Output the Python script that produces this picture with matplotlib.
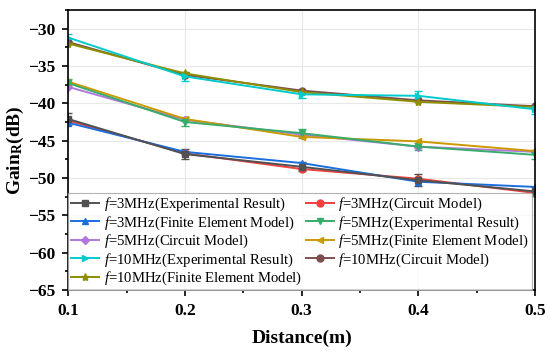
import matplotlib
matplotlib.use("Agg")
import matplotlib.pyplot as plt
from matplotlib.ticker import MultipleLocator

plt.rcParams['font.family'] = 'Liberation Serif'
plt.rcParams['mathtext.fontset'] = 'custom'
plt.rcParams['mathtext.rm'] = 'Liberation Serif'
plt.rcParams['mathtext.it'] = 'Liberation Serif:italic'
plt.rcParams['mathtext.bf'] = 'Liberation Serif:bold'

# distances (m)
distance = [0.1, 0.2, 0.3, 0.4, 0.5]

# gain values (dB)
exp_3mhz = [-42.1, -46.8, -48.5, -50.3, -51.8]
err_3mhz = [0.8, 0.7, 0.6, 0.8, 0.6]
cir_3mhz = [-42.3, -46.7, -48.8, -50.1, -52.0]
fem_3mhz = [-42.6, -46.5, -48.0, -50.5, -51.2]

exp_5mhz = [-37.3, -42.5, -44.0, -45.8, -46.9]
err_5mhz = [0.5, 0.6, 0.6, 0.5, 0.6]
cir_5mhz = [-37.8, -42.2, -44.2, -45.8, -46.5]
fem_5mhz = [-37.1, -42.1, -44.5, -45.1, -46.4]

exp_10mhz = [-31.2, -36.4, -38.8, -39.0, -40.8]
err_10mhz = [0.5, 0.6, 0.5, 0.6, 0.6]
cir_10mhz = [-31.8, -36.2, -38.3, -39.6, -40.4]
fem_10mhz = [-32.0, -36.0, -38.5, -39.8, -40.5]

labels = [r'$f$=3MHz(Experimental Result)', r'$f$=3MHz(Circuit Model)',
          r'$f$=3MHz(Finite Element Model)', r'$f$=5MHz(Experimental Result)',
          r'$f$=5MHz(Circuit Model)', r'$f$=5MHz(Finite Element Model)',
          r'$f$=10MHz(Experimental Result)', r'$f$=10MHz(Circuit Model)',
          r'$f$=10MHz(Finite Element Model)']

fig = plt.figure(figsize=(5.5, 3.55), dpi=100)
ax = fig.add_axes([0.124, 0.183, 0.849, 0.789])

lw = 1.4
ms = 5
handles = []
eb = ax.errorbar(distance, exp_3mhz, yerr=err_3mhz, color='#515151', marker='s', ms=ms, lw=lw, capsize=3)
handles.append(eb[0])
handles += ax.plot(distance, cir_3mhz, color='#F14040', marker='o', ms=ms, lw=lw)
handles += ax.plot(distance, fem_3mhz, color='#1A6FDF', marker='^', ms=ms, lw=lw)
eb = ax.errorbar(distance, exp_5mhz, yerr=err_5mhz, color='#37AD6B', marker='v', ms=ms, lw=lw, capsize=3)
handles.append(eb[0])
handles += ax.plot(distance, cir_5mhz, color='#B177DE', marker='D', ms=ms - 1, lw=lw)
handles += ax.plot(distance, fem_5mhz, color='#CC9900', marker='<', ms=ms, lw=lw)
eb = ax.errorbar(distance, exp_10mhz, yerr=err_10mhz, color='#00CBCC', marker='>', ms=ms, lw=lw, capsize=3)
handles.append(eb[0])
handles += ax.plot(distance, cir_10mhz, color='#7D4E4E', marker='o', ms=ms, lw=lw)
handles += ax.plot(distance, fem_10mhz, color='#8E8E00', marker='*', ms=ms + 1, lw=lw)

ax.set_xlim(0.1, 0.5)
ax.set_ylim(-65, -27.5)
ax.xaxis.set_major_locator(MultipleLocator(0.1))
ax.xaxis.set_minor_locator(MultipleLocator(0.05))
ax.yaxis.set_major_locator(MultipleLocator(5))
ax.yaxis.set_minor_locator(MultipleLocator(2.5))
ax.grid(True, which='major', color='#e8e8e8', lw=0.8)
ax.set_axisbelow(True)
ax.tick_params(which='both', direction='out', width=1.2, labelsize=12.5)
ax.tick_params(which='major', length=4, pad=5)
ax.tick_params(which='minor', length=2.5)
for lbl in ax.get_xticklabels() + ax.get_yticklabels():
    lbl.set_fontweight('bold')
for sp in ax.spines.values():
    sp.set_linewidth(1.2)

ax.set_xlabel('Distance(m)', fontsize=14, fontweight='bold', labelpad=8)
ax.set_ylabel(r'Gain$_{\mathbf{R}}$(dB)', fontsize=14, fontweight='bold', labelpad=2)

# matplotlib fills legend columns first; reorder so rows read like the original
order = [0, 2, 4, 6, 8, 1, 3, 5, 7]
leg = ax.legend([handles[i] for i in order], [labels[i] for i in order], loc='lower left', ncol=2,
                fontsize=10.6, frameon=True, fancybox=False, borderaxespad=0, handlelength=1.9,
                labelspacing=0.08, columnspacing=0.3, handletextpad=0.3, borderpad=0.2)
leg.get_frame().set_edgecolor('#a0a0a0')
leg.get_frame().set_linewidth(0.8)

plt.savefig('out.png', dpi=100)
